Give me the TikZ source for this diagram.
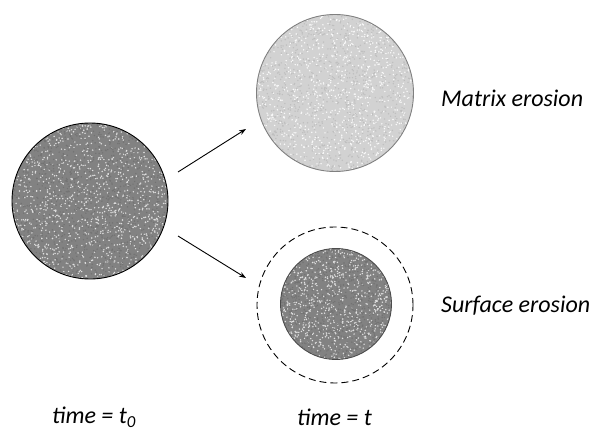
\documentclass[tikz,border=0pt]{standalone}
\usepackage{fontspec}
\setmainfont{Carlito}
\usetikzlibrary{positioning,calc,arrows.meta}
\definecolor{graincore}{RGB}{130,130,130}
\definecolor{grainpale}{RGB}{210,210,210}

% Speckled fill clipped to a round node.
\newcommand{\grainfill}[5]{%
  \begin{scope}
    \clip (#1.center) circle (#2);
    \foreach \k in {1,...,#5} {
      \fill[#3, shift={(#1.center)}] (#2*rand, #2*rand) circle (0.8);
      \fill[#4, shift={(#1.center)}] (#2*rand, #2*rand) circle (0.8);
    }
  \end{scope}}

\begin{document}
\begin{tikzpicture}[
    x=1pt,
    y=-1pt,
    font=\fontsize{24}{28}\selectfont\itshape,
    >={Stealth[length=7pt,width=5pt]},
    grain/.style={circle, inner sep=0pt, minimum size=#1},
    label/.style={anchor=west, inner sep=0pt},
    flow/.style={->, line width=0.9pt}
]
\useasboundingbox (0,0) rectangle (592,430);
\pgfmathsetseed{7}

% Particle at t0.
\node[grain=156pt, fill=graincore] (start) at (90,201) {};
\grainfill{start}{78}{white!75!graincore}{black!55}{1300}
\draw[line width=0.9pt] (start.center) circle (78);

% Matrix erosion particle.
\node[grain=157pt, fill=grainpale] (matrix) at (335,93) {};
\grainfill{matrix}{78.5}{white!90!grainpale}{black!25}{1100}
\draw[gray, line width=0.9pt] (matrix.center) circle (78.5);

% Surface erosion particle.
\node[grain=156pt, draw, dash pattern=on 7pt off 4pt, line width=0.9pt] (shell) at (335,305) {};
\node[grain=111pt, fill=graincore] (core) at (336,304) {};
\grainfill{core}{55.5}{white!75!graincore}{black!55}{900}
\draw[black!70, line width=0.9pt] (core.center) circle (55.5);

% Arrows.
\coordinate (up_from) at (178,172);
\coordinate (up_to) at (246,129);
\coordinate (dn_from) at (178,236);
\coordinate (dn_to) at (246,278);
\draw[flow] (up_from) -- (up_to);
\draw[flow] (dn_from) -- (dn_to);

% Labels.
\node[label] (matrix_lbl) at (441,98) {Matrix erosion};
\node[label] (surface_lbl) at (441,306) {Surface erosion};
\node[label] (t0_lbl) at (52,417) {time = t\textsubscript{0}};
\node[label] (t_lbl) at (297,417) {time = t};

\end{tikzpicture}
\end{document}
